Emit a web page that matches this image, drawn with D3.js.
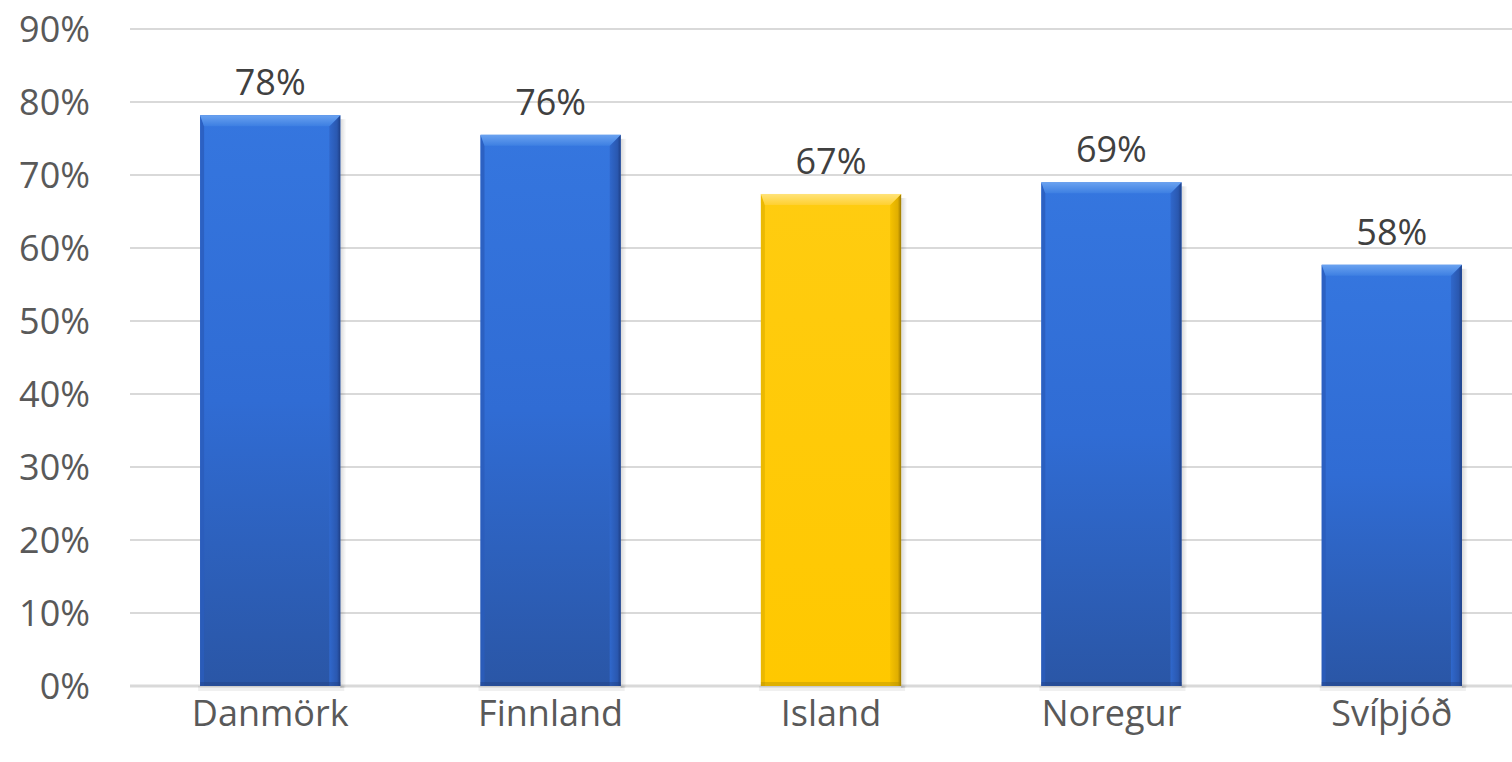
<!DOCTYPE html>
<html><head><meta charset="utf-8">
<script src="https://cdn.jsdelivr.net/npm/d3@7"></script>
<style>html,body{margin:0;padding:0;background:#fff;overflow:hidden}</style>
</head><body>
<svg id="c" width="1512" height="762"></svg>
<script>
const categories = ["Danmörk", "Finnland", "Island", "Noregur", "Svíþjóð"];
const values = [78.2, 75.5, 67.4, 69.0, 57.7];
const labels = ["78%", "76%", "67%", "69%", "58%"];
const highlight = ["Island"];
const yTicks = [0, 10, 20, 30, 40, 50, 60, 70, 80, 90];

const svg = d3.select("#c");
const x = d3.scaleBand().domain(categories).range([130, 1532]).paddingInner(0.5).paddingOuter(0.25);
const y = d3.scaleLinear().domain([0, 90]).range([686, 29]);
const font = "'Open Sans', 'Noto Sans', sans-serif";

const defs = svg.append("defs");
function grad(id, stops, horiz) {
  const g = defs.append("linearGradient").attr("id", id)
    .attr("x1", 0).attr("y1", 0).attr("x2", horiz ? 1 : 0).attr("y2", horiz ? 0 : 1);
  stops.forEach(s => g.append("stop").attr("offset", s[0]).attr("stop-color", s[1]).attr("stop-opacity", s[2] == null ? 1 : s[2]));
}
grad("blueBody", [[0, "#3576df"], [0.5, "#306cd4"], [1, "#2a56a6"]]);
grad("yellowBody", [[0, "#ffcc10"], [1, "#ffc800"]]);
grad("blueTop", [[0, "#6aa2f0"], [1, "#3d7fe2"]]);
grad("yellowTop", [[0, "#ffe37a"], [1, "#ffd030"]]);
grad("blueRight", [[0, "#3068cc"], [0.7, "#2a58b0"], [1, "#1e3f86"]], true);
grad("yellowRight", [[0, "#f5c200"], [0.7, "#e0ae00"], [1, "#9c7a00"]], true);
grad("shadow", [[0, "#000", 0.15], [1, "#000", 0]], true);

// grid
svg.append("g").selectAll("line").data(yTicks).join("line")
  .attr("x1", 130).attr("x2", 1512)
  .attr("y1", d => y(d)).attr("y2", d => y(d))
  .attr("stroke", "#d9d9d9").attr("stroke-width", d => d === 0 ? 3 : 2);

// y labels
svg.append("g").selectAll("text").data(yTicks).join("text")
  .attr("x", 90).attr("y", d => y(d)).attr("dy", "0.36em")
  .attr("text-anchor", "end").attr("fill", "#595959")
  .attr("font-family", font).attr("font-size", 36)
  .text(d => d + "%");

// bars
const data = categories.map((c, i) => ({c, v: values[i], l: labels[i], hi: highlight.includes(c)}));
const bw = x.bandwidth();
const bars = svg.append("g").selectAll("g").data(data).join("g");
bars.append("rect")
  .attr("x", d => x(d.c) + bw).attr("y", d => y(d.v) + 4)
  .attr("width", 6).attr("height", d => y(0) - y(d.v) - 2)
  .attr("fill", "url(#shadow)");
bars.append("rect")
  .attr("x", d => x(d.c) - 2).attr("y", y(0)).attr("width", bw + 6).attr("height", 5)
  .attr("fill", "#000").attr("opacity", 0.06);
bars.append("rect")
  .attr("x", d => x(d.c)).attr("y", d => y(d.v))
  .attr("width", bw).attr("height", d => y(0) - y(d.v))
  .attr("fill", d => d.hi ? "url(#yellowBody)" : "url(#blueBody)");
const bev = 11;
bars.append("path")
  .attr("d", d => { const x0 = x(d.c), t = y(d.v), b = y(0);
    return `M${x0},${t}L${x0 + 4},${t + bev}L${x0 + 4},${b}L${x0},${b}Z`; })
  .attr("fill", d => d.hi ? "#e6b400" : "#2a5cbc").attr("opacity", 0.8);
bars.append("path")
  .attr("d", d => { const x1 = x(d.c) + bw, t = y(d.v), b = y(0);
    return `M${x1},${t}L${x1 - bev},${t + bev}L${x1 - bev},${b}L${x1},${b}Z`; })
  .attr("fill", d => d.hi ? "url(#yellowRight)" : "url(#blueRight)");
bars.append("path")
  .attr("d", d => { const x0 = x(d.c), x1 = x0 + bw, t = y(d.v);
    return `M${x0},${t}L${x1},${t}L${x1 - bev},${t + bev}L${x0 + 4},${t + bev}Z`; })
  .attr("fill", d => d.hi ? "url(#yellowTop)" : "url(#blueTop)");
bars.append("rect")
  .attr("x", d => x(d.c)).attr("y", y(0) - 4).attr("width", bw).attr("height", 4)
  .attr("fill", d => d.hi ? "#b08c00" : "#203f80").attr("opacity", 0.4);

// value labels
bars.append("text")
  .attr("x", d => x(d.c) + bw / 2).attr("y", d => y(d.v) - 20)
  .attr("text-anchor", "middle").attr("fill", "#404040")
  .attr("font-family", font).attr("font-size", 36)
  .text(d => d.l);

// x labels
svg.append("g").selectAll("text").data(categories).join("text")
  .attr("x", d => x(d) + bw / 2).attr("y", 726)
  .attr("text-anchor", "middle").attr("fill", "#595959")
  .attr("font-family", font).attr("font-size", 36)
  .text(d => d);
</script>
</body></html>
